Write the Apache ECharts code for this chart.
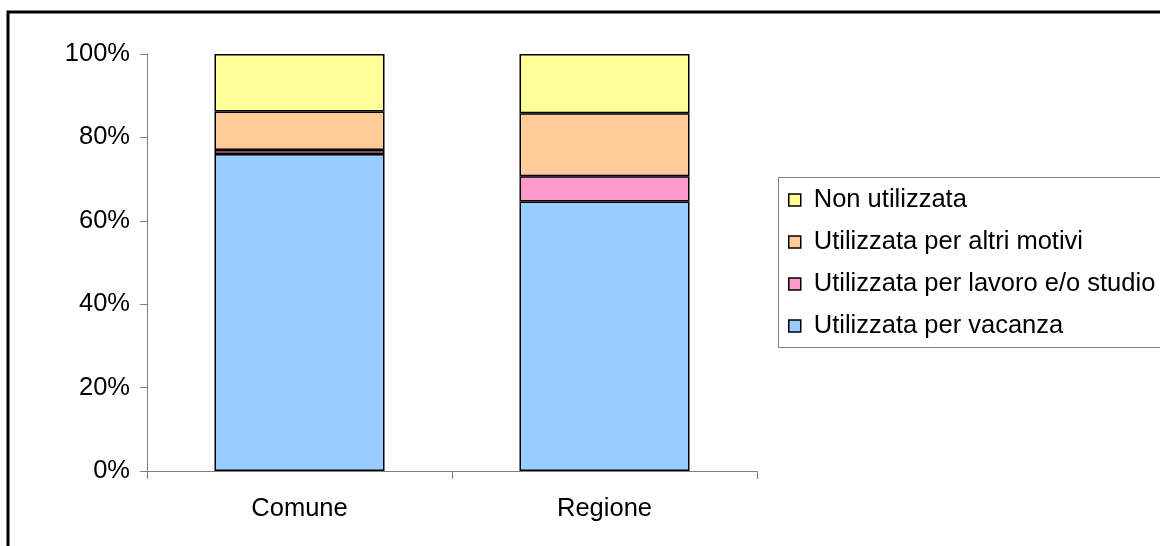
<!DOCTYPE html>
<html>
<head>
<meta charset="utf-8">
<script src="https://cdn.jsdelivr.net/npm/echarts@6/dist/echarts.min.js"></script>
<style>
  html, body { margin: 0; padding: 0; background: #fff; }
  #chart { width: 1160px; height: 546px; }
</style>
</head>
<body>
<div id="chart"></div>
<script>
// Utilizzo della seconda casa: confronto Comune / Regione (valori percentuali)
const categories = ['Comune', 'Regione'];
const vacanza = [76.0, 64.6];
const lavoroStudio = [1.0, 6.1];
const altriMotivi = [9.2, 15.1];
const nonUtilizzata = [13.8, 14.2];
const yTicks = [0, 20, 40, 60, 80, 100];

const FONT = 'Liberation Sans';
const FS = 25.5;

const seriesDefs = [
  { name: 'Utilizzata per vacanza', data: vacanza, color: '#99CCFF' },
  { name: 'Utilizzata per lavoro e/o studio', data: lavoroStudio, color: '#FF99CC' },
  { name: 'Utilizzata per altri motivi', data: altriMotivi, color: '#FFCC99' },
  { name: 'Non utilizzata', data: nonUtilizzata, color: '#FFFF99' }
];

const chart = echarts.init(document.getElementById('chart'), null, { renderer: 'canvas' });

chart.setOption({
  animation: false,
  backgroundColor: '#ffffff',
  textStyle: { fontFamily: FONT, color: '#000' },
  graphic: [
    {
      type: 'rect',
      shape: { x: 8, y: 12, width: 1300, height: 700 },
      style: { fill: 'none', stroke: '#000', lineWidth: 3 },
      silent: true, z: -10
    },
    {
      type: 'rect',
      shape: { x: 778.5, y: 177.5, width: 500, height: 170 },
      style: { fill: '#fff', stroke: '#808080', lineWidth: 1 },
      silent: true, z: -5
    }
  ],
  grid: { left: 147, top: 54, width: 610, height: 417, containLabel: false },
  legend: {
    orient: 'vertical',
    left: 788,
    top: 187,
    data: seriesDefs.map(s => s.name).reverse(),
    icon: 'rect',
    itemWidth: 12,
    itemHeight: 12,
    itemGap: 16,
    padding: 0,
    itemStyle: { borderColor: '#000', borderWidth: 1.5 },
    textStyle: { fontFamily: FONT, fontSize: FS, color: '#000', lineHeight: 26, padding: [0, 0, 0, 8] },
    selectedMode: false
  },
  xAxis: {
    type: 'category',
    data: categories,
    boundaryGap: true,
    axisLine: { lineStyle: { color: '#808080', width: 1 } },
    axisTick: { show: true, inside: false, length: 8, alignWithLabel: false, lineStyle: { color: '#808080' } },
    axisLabel: { fontFamily: FONT, fontSize: FS, color: '#000', margin: 25 },
    splitLine: { show: false }
  },
  yAxis: {
    type: 'value',
    min: 0,
    max: 100,
    interval: 20,
    axisLine: { show: true, lineStyle: { color: '#808080', width: 1 } },
    axisTick: { show: true, length: 7, lineStyle: { color: '#808080' } },
    axisLabel: {
      fontFamily: FONT, fontSize: FS, color: '#000', margin: 17,
      formatter: v => (yTicks.includes(v) ? v + '%' : '')
    },
    splitLine: { show: false }
  },
  series: seriesDefs.map(s => ({
    name: s.name,
    type: 'bar',
    stack: 'totale',
    data: s.data,
    barWidth: 170,
    itemStyle: { color: s.color, borderColor: '#000', borderWidth: 1.5 },
    emphasis: { disabled: true }
  }))
});
</script>
</body>
</html>
